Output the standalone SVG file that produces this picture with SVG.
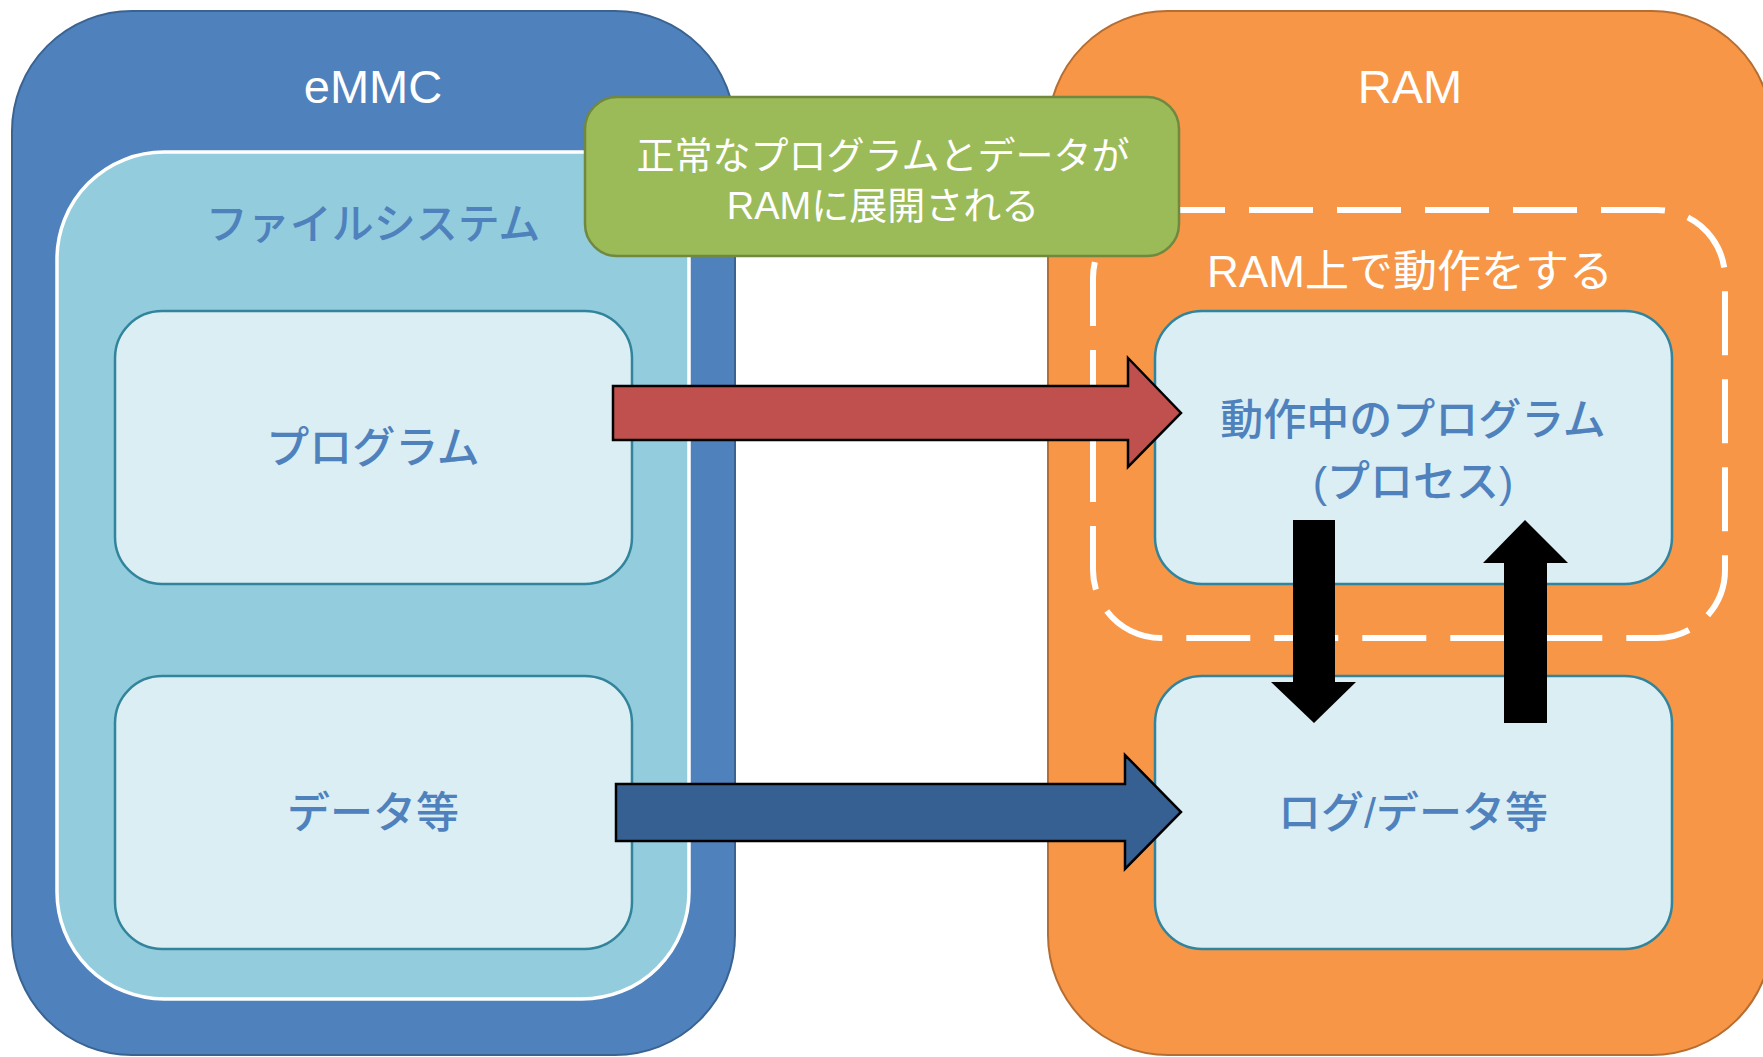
<svg xmlns="http://www.w3.org/2000/svg" width="1763" height="1057" viewBox="0 0 1763 1057">
<style>
.t{font-family:"Liberation Sans","Noto Sans CJK JP",sans-serif;text-anchor:middle;dominant-baseline:central}
.title{font-family:"Liberation Sans","Noto Sans CJK JP",sans-serif;font-size:47px;fill:#fff;text-anchor:middle}
.inner{fill:#daeef3;stroke:#31849b;stroke-width:2.5}
.lbl{fill:#4f81bd;font-size:43px;font-weight:500}
</style>
<rect width="1763" height="1057" fill="#fff"/>
<g id="emmc">
<rect x="12" y="11" width="723" height="1044" rx="120" ry="120" fill="#4f81bd" stroke="#3a6391" stroke-width="2"/>
<text class="title" x="373" y="103">eMMC</text>
</g>
<g id="filesystem">
<rect x="57" y="152" width="632" height="847" rx="107" ry="107" fill="#93cddd" stroke="#fff" stroke-width="3.5"/>
<text class="t" x="373" y="224" font-size="42" font-weight="500" fill="#4f81bd">ファイルシステム</text>
</g>
<g id="program">
<rect class="inner" x="115" y="311" width="517" height="273" rx="47" ry="47"/>
<text class="t lbl" x="373" y="448">プログラム</text>
</g>
<g id="data">
<rect class="inner" x="115" y="676" width="517" height="273" rx="47" ry="47"/>
<text class="t lbl" x="373" y="813">データ等</text>
</g>
<g id="ram">
<rect x="1048" y="11" width="724" height="1044" rx="120" ry="120" fill="#f79646" stroke="#b66d31" stroke-width="2"/>
<text class="title" x="1410" y="103">RAM</text>
</g>
<g id="process">
<rect class="inner" x="1155" y="311" width="517" height="273" rx="47" ry="47"/>
<text class="t lbl" x="1413" y="420" font-size="45">動作中のプログラム</text>
<text class="t lbl" x="1413" y="482" font-size="45">(プロセス)</text>
</g>
<g id="log">
<rect class="inner" x="1155" y="676" width="517" height="273" rx="47" ry="47"/>
<text class="t lbl" x="1413" y="813" font-size="44">ログ/データ等</text>
</g>
<g id="running-on-ram">
<rect x="1093" y="210" width="632" height="428" rx="68" ry="68" fill="none" stroke="#fff" stroke-width="6" stroke-dasharray="64 24"/>
<text class="t" x="1410" y="271" font-size="44" fill="#fff">RAM上で動作をする</text>
</g>
<g id="connectors">
<polygon points="613,386 1128,386 1128,358 1181,413 1128,467 1128,440 613,440" fill="#c0504d" stroke="#000" stroke-width="2.5"/>
<polygon points="616,784 1125,784 1125,755 1181,812 1125,869 1125,841 616,841" fill="#366092" stroke="#000" stroke-width="2.5"/>
<polygon points="1293,520 1335,520 1335,682 1356,682 1314,723 1271,682 1293,682" fill="#000"/>
<polygon points="1504,723 1547,723 1547,563 1568,563 1525,520 1483,563 1504,563" fill="#000"/>
</g>
<g id="loaded-note">
<rect x="585" y="97" width="594" height="159" rx="32" ry="32" fill="#9bbb59" stroke="#71893f" stroke-width="2.5"/>
<text class="t" x="883" y="156" font-size="38" fill="#fff">正常なプログラムとデータが</text>
<text class="t" x="883" y="206" font-size="38" fill="#fff">RAMに展開される</text>
</g>
</svg>
